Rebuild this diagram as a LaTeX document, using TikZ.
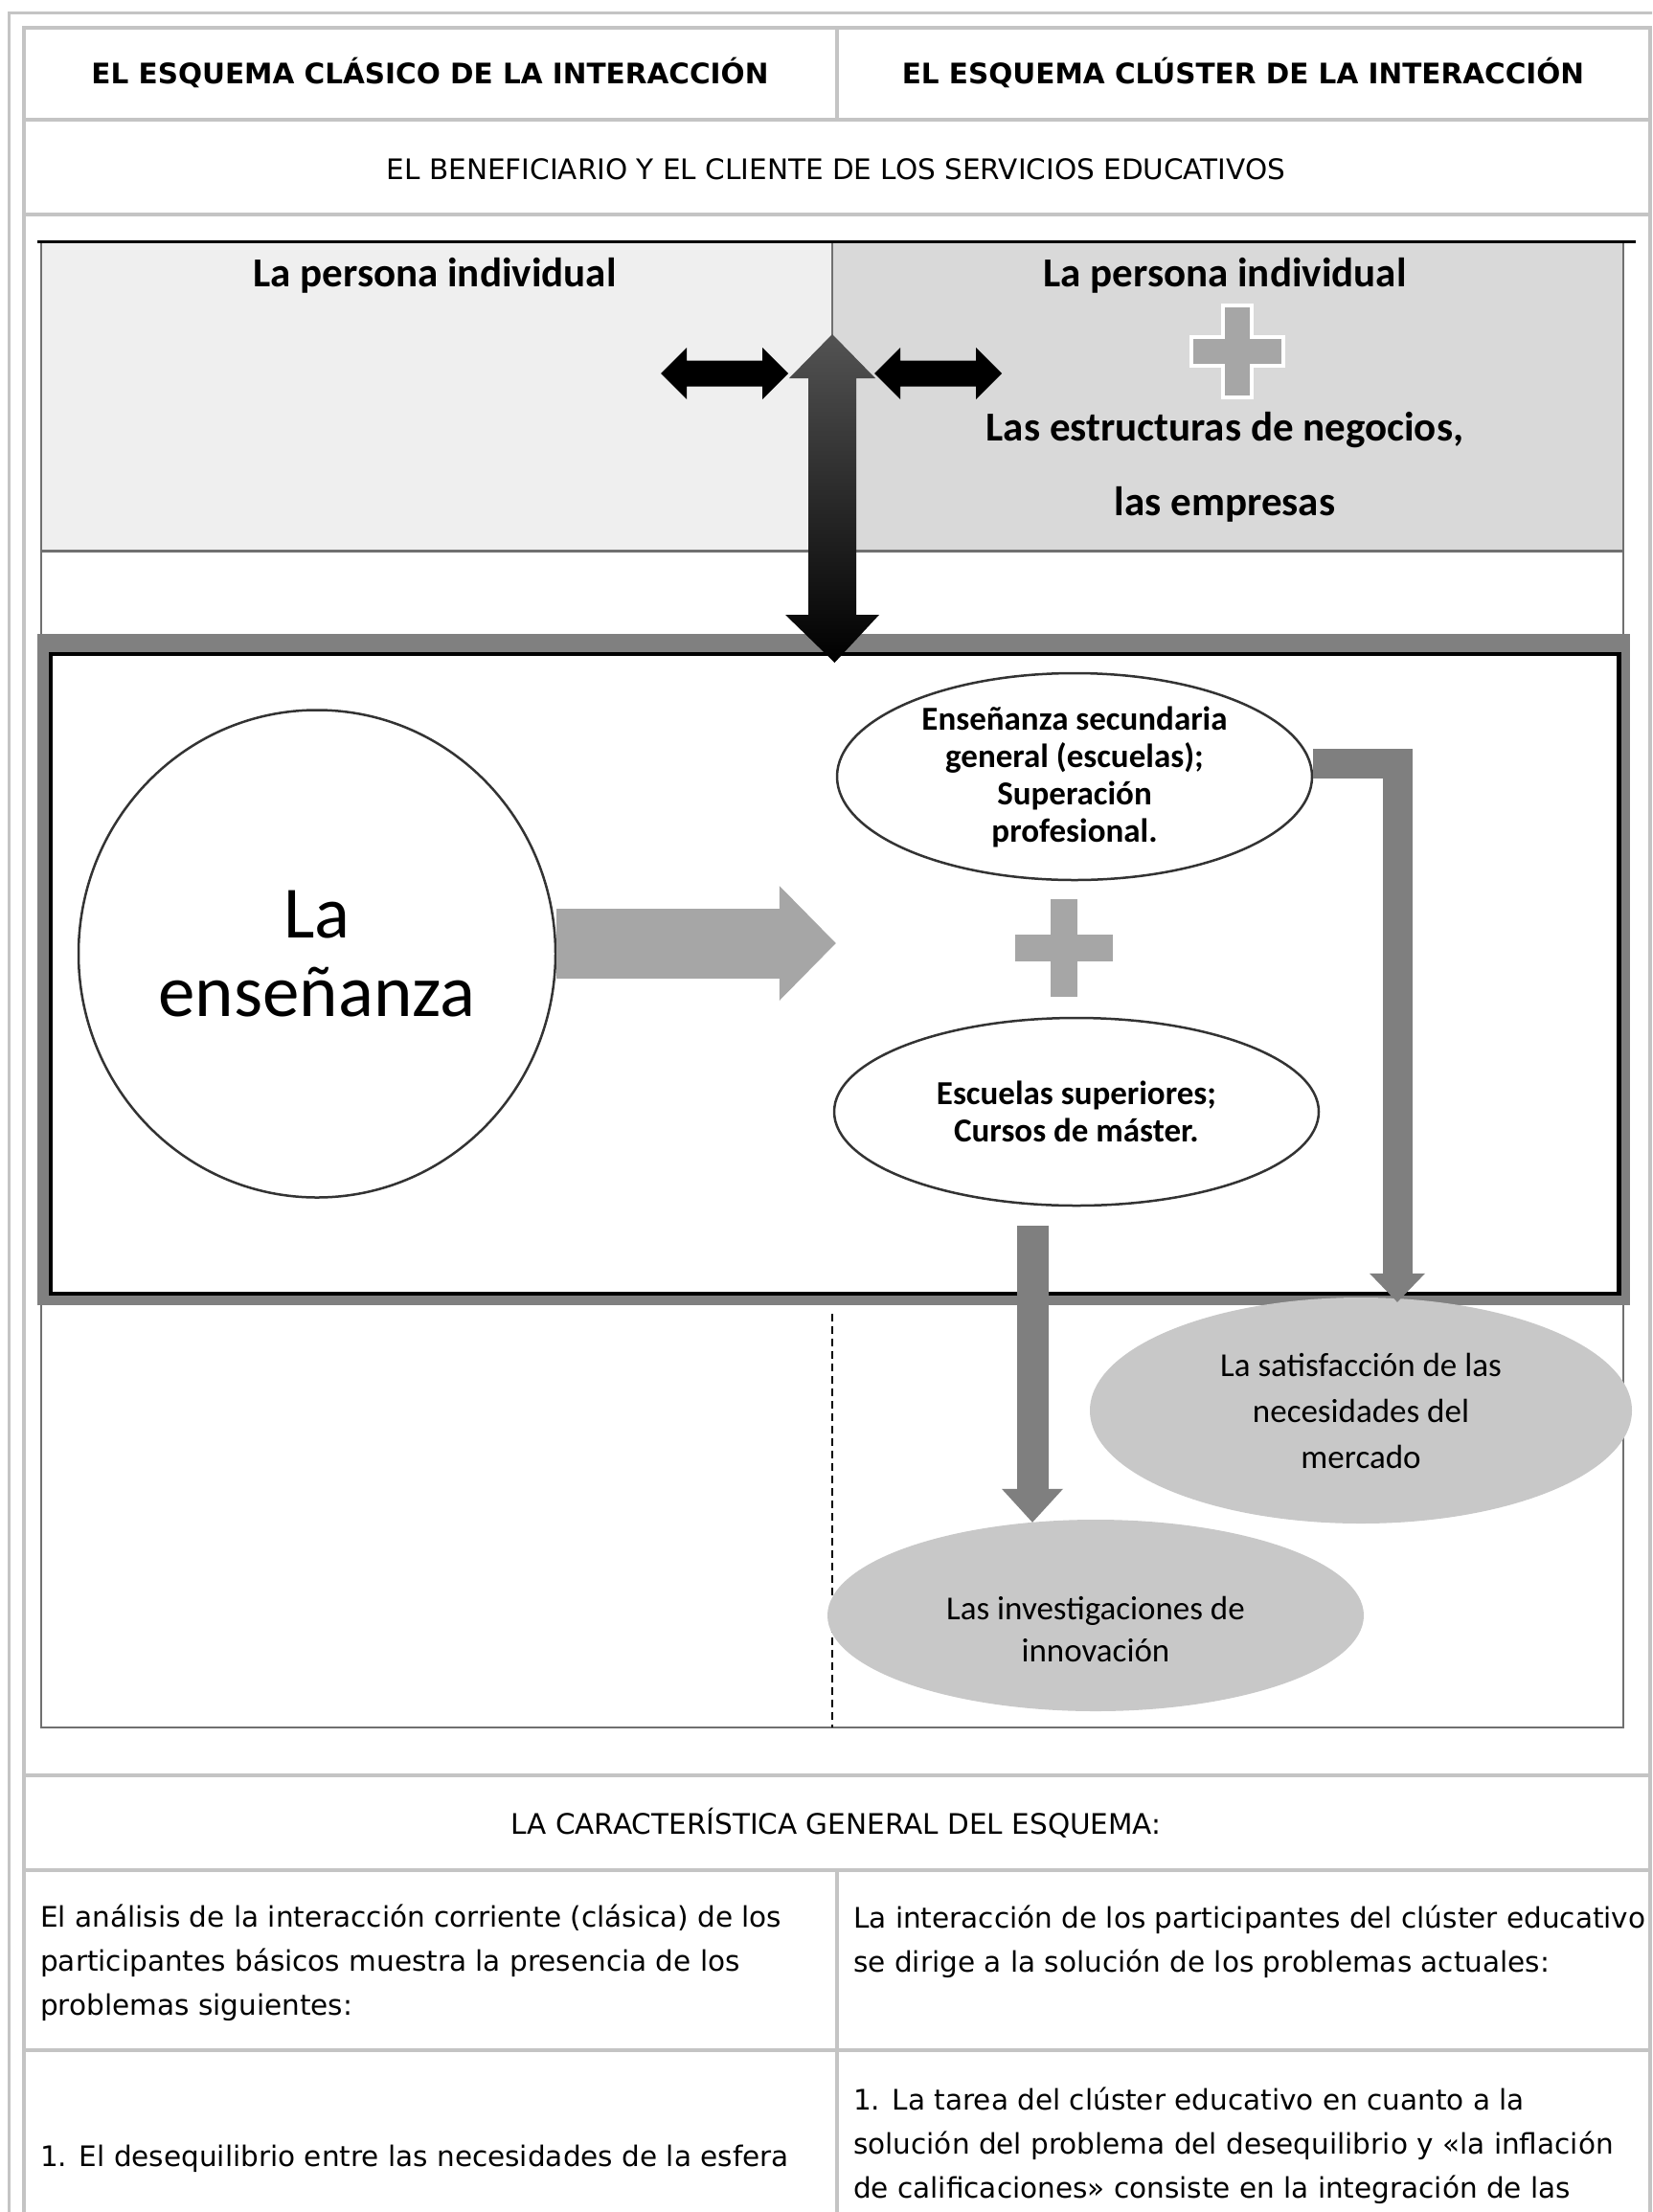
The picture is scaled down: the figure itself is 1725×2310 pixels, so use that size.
\documentclass[tikz,border=0pt]{standalone}
\usepackage{fontspec}
\setmainfont{DejaVu Sans}
\newfontfamily\carlito{Carlito}
\usepackage{tikz}
\usetikzlibrary {positioning}
\usetikzlibrary{arrows.meta}
\usetikzlibrary{calc}
\usetikzlibrary{shapes.geometric}

\definecolor{cellgray}{HTML}{C4C4C4}
\definecolor{bandlight}{HTML}{EFEFEF}
\definecolor{banddark}{HTML}{D9D9D9}
\definecolor{framegray}{HTML}{707070}
\definecolor{boxgray}{HTML}{808080}
\definecolor{fatgray}{HTML}{A6A6A6}
\definecolor{stemgray}{HTML}{7F7F7F}
\definecolor{goalgray}{HTML}{C8C8C8}

\begin{document}
\begin{tikzpicture}[x=1pt, y=-1pt,
		tablecell/.style={draw=cellgray, line width=4.5pt, line cap=rect},
		webtext/.style={font=\fontsize{29.5}{45.6}\selectfont, inner sep=0pt},
		webhead/.style={font=\fontsize{29.5}{45.6}\selectfont\bfseries, inner sep=0pt},
		bandtext/.style={font=\carlito\bfseries\fontsize{43}{78}\selectfont, inner sep=0pt, align=center},
		oval/.style={ellipse, draw=black!80, line width=2.5pt, fill=white, inner sep=0pt, align=center,
			font=\carlito\bfseries\fontsize{35}{39}\selectfont},
		goal/.style={ellipse, fill=goalgray, inner sep=0pt, align=center, font=\carlito\fontsize{35}{48}\selectfont}]

		% Page and the outer frame of the table
		\fill[white] (0,0) rectangle (1725,2310);
		\useasboundingbox (0,0) rectangle (1725,2310);
		\clip (0,0) rectangle (1725,2310);
		\draw[cellgray, line width=3pt] (9,13.5) rectangle (1760,2360);

		% Rows and columns of the table
		\foreach \y in {29,125,224,1854,1953,2141}
			{\draw[tablecell] (25,\y) -- (1723,\y);}
		\foreach \x in {25,1723}
			{\draw[tablecell] (\x,29) -- (\x,2330);}
		\draw[tablecell] (874,29) -- (874,125);
		\draw[tablecell] (874,1953) -- (874,2330);

		% The band with the two clients
		\fill[bandlight] (43,252) rectangle (869,575);
		\fill[banddark] (869,252) rectangle (1695,575);
		\draw[framegray, line width=2.5pt] (43,252) -- (43,1804) -- (1695,1804) -- (1695,252);
		\draw[framegray, line width=3pt] (43,575) -- (1695,575);
		\draw[framegray, line width=2.5pt] (869,252) -- (869,360);
		\draw[black, line width=3pt] (39,252) -- (1708,252);
		\draw[black, line width=1.5pt, dash pattern=on 8pt off 5pt] (869,1372) -- (869,1804);

		% The frame of the education block
		\fill[boxgray] (39,662) rectangle (1702,1363);
		\node[draw=black, line width=4.5pt, fill=white, anchor=north west, inner sep=0pt,
			minimum width=1637.5pt, minimum height=668pt] (scheme) at (50.5,680.5) {};

		\node[bandtext, anchor=base] (persL) at (454,299) {La persona individual};
		\node[bandtext, anchor=base] (persR) at (1279,299) {La persona individual};
		\node[bandtext, anchor=base] (biz) at (1279,538) {Las estructuras de negocios,\\las empresas};

		\node[oval, minimum width=498pt, minimum height=509pt, font=\carlito\fontsize{77}{82}\selectfont] (ens) at (331,996) {La\\enseñanza};
		\node[oval, minimum width=496pt, minimum height=216pt] (sec) at (1122,811) {Enseñanza secundaria\\general (escuelas);\\Superación\\profesional.};
		\node[oval, minimum width=506pt, minimum height=196pt] (sup) at (1124,1161) {Escuelas superiores;\\Cursos de máster.};
		\node[goal, minimum width=566pt, minimum height=236pt] (sat) at (1421,1473) {La satisfacción de las\\necesidades del\\mercado};
		\node[goal, minimum width=560pt, minimum height=200pt, text height=98pt,
			font=\carlito\fontsize{35}{44}\selectfont] (inv) at (1144,1687) {Las investigaciones de\\innovación};

		% Plus signs
		\foreach \px/\py/\half in {1292/367/48, 1111/990/53}
		{
			\pgfmathsetmacro\arm{0.31*\half}
			\draw[fill=fatgray, draw=white, line width=4pt] (\px-\arm,\py-\half) -- (\px+\arm,\py-\half) -- (\px+\arm,\py-\arm)
				-- (\px+\half,\py-\arm) -- (\px+\half,\py+\arm) -- (\px+\arm,\py+\arm) -- (\px+\arm,\py+\half)
				-- (\px-\arm,\py+\half) -- (\px-\arm,\py+\arm) -- (\px-\half,\py+\arm) -- (\px-\half,\py-\arm)
				-- (\px-\arm,\py-\arm) -- cycle;
		}

		% Big double arrow between the clients and the block
		\coordinate (upper) at (869,349);
		\coordinate (lower) at ($(scheme.north)+(0,11.5)$);
		\shade[top color=gray!65!black, middle color=black, bottom color=black]
			(upper) -- (914,395) -- (894,395) -- (894,642) -- (918,642) -- (lower)
			-- (820,642) -- (844,642) -- (844,395) -- (824,395) -- cycle;
		\foreach \ax in {690,913}
			{\shade[top color=black, middle color=gray!55!black, bottom color=black]
				(\ax,390) -- ++(27,-27) -- ++(0,13.5) -- ++(79,0) -- ++(0,-13.5) -- ++(27,27)
				-- ++(-27,27) -- ++(0,-13.5) -- ++(-79,0) -- ++(0,13.5) -- cycle;}

		% Arrows between the blocks
		\draw[line width=73pt, fatgray, -{Triangle[length=59pt, width=120pt, line width=0pt]}]
			($(ens.east)+(0,-11)$) -- ($(ens.east -| sec.west)+(0,-11)$);
		\draw[line width=31pt, stemgray, -{Triangle[length=30pt, width=58pt, line width=0pt]}]
			($(sec.east)+(0,-14)$) -| ($(sat.north)+(38,5)$);
		\draw[line width=33pt, stemgray, -{Triangle[length=35pt, width=64pt, line width=0pt]}]
			($(sup.south)+(-46,20)$) -- ($(inv.north)+(-66,3)$);

		% Texts of the table
		\node[webhead, anchor=base] (head1) at (449,87) {EL ESQUEMA CLÁSICO DE LA INTERACCIÓN};
		\node[webhead, anchor=base] (head2) at (1298,87) {EL ESQUEMA CLÚSTER DE LA INTERACCIÓN};
		\node[webtext, anchor=base] (benef) at (873,187) {EL BENEFICIARIO Y EL CLIENTE DE LOS SERVICIOS EDUCATIVOS};
		\node[webtext, anchor=base] (carac) at (873,1915) {LA CARACTERÍSTICA GENERAL DEL ESQUEMA:};
		\node[webtext, anchor=base west, align=left] (anL) at (42,2104) {El análisis de la interacción corriente (clásica) de los\\participantes básicos muestra la presencia de los\\problemas siguientes:};
		\node[webtext, anchor=base west, align=left] (anR) at (891,2059) {La interacción de los participantes del clúster educativo\\se dirige a la solución de los problemas actuales:};
		\node[webtext, anchor=base west] (desL) at (42,2262) {1. El desequilibrio entre las necesidades de la esfera};
		\node[webtext, anchor=base west, align=left] (desR) at (891,2295) {1. La tarea del clúster educativo en cuanto a la\\solución del problema del desequilibrio y «la inflación\\de calificaciones» consiste en la integración de las};
\end{tikzpicture}
\end{document}
